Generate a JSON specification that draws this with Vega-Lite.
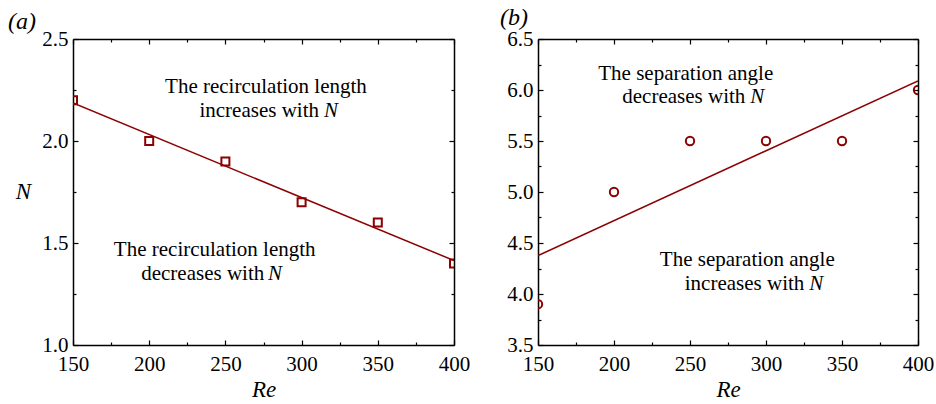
{
  "$schema": "https://vega.github.io/schema/vega-lite/v6.json",
  "padding": {"left": 7, "top": 5, "right": 5, "bottom": 0},
  "background": "white",
  "spacing": 84,
  "bounds": "flush",
  "config": {
    "view": {"stroke": null},
    "font": "Liberation Serif",
    "axis": {
      "domainColor": "black", "domainWidth": 1.5,
      "tickColor": "black", "tickWidth": 1.2,
      "labelFont": "Liberation Serif", "labelFontSize": 21, "labelColor": "black",
      "labelFlush": false, "labelOverlap": false, "grid": false,
      "titleFont": "Liberation Serif", "titleFontStyle": "italic", "titleFontWeight": "normal",
      "titleFontSize": 23, "titleColor": "black"
    }
  },
  "datasets": {
    "a_pts": [
      {"re": 150, "n": 2.2}, {"re": 200, "n": 2.0}, {"re": 250, "n": 1.9},
      {"re": 300, "n": 1.7}, {"re": 350, "n": 1.6}, {"re": 400, "n": 1.4}
    ],
    "a_fit": [{"re": 150, "n": 2.186}, {"re": 400, "n": 1.414}],
    "a_txt": [
      {"re": 276.6, "n": 2.236, "t": "The recirculation length", "part": "l1"},
      {"re": 311.4, "n": 2.118, "t": "increases with", "part": "l2"},
      {"re": 314.7, "n": 2.118, "t": "N", "part": "v"},
      {"re": 243.0, "n": 1.436, "t": "The recirculation length", "part": "l1"},
      {"re": 275.5, "n": 1.318, "t": "decreases with", "part": "l2"},
      {"re": 278.0, "n": 1.318, "t": "N", "part": "v"},
      {"re": 116.5, "n": 2.549, "t": "(a)", "part": "p"}
    ],
    "b_pts": [
      {"re": 150, "n": 3.9}, {"re": 200, "n": 5.0}, {"re": 250, "n": 5.5},
      {"re": 300, "n": 5.5}, {"re": 350, "n": 5.5}, {"re": 400, "n": 6.0}
    ],
    "b_fit": [{"re": 150, "n": 4.376}, {"re": 400, "n": 6.09}],
    "b_txt": [
      {"re": 247.2, "n": 6.1, "t": "The separation angle", "part": "l1"},
      {"re": 286.4, "n": 5.868, "t": "decreases with", "part": "l2"},
      {"re": 289.7, "n": 5.868, "t": "N", "part": "v"},
      {"re": 287.7, "n": 4.275, "t": "The separation angle", "part": "l1"},
      {"re": 325.2, "n": 4.04, "t": "increases with", "part": "l2"},
      {"re": 328.5, "n": 4.04, "t": "N", "part": "v"},
      {"re": 134.2, "n": 6.64, "t": "(b)", "part": "p"}
    ]
  },
  "hconcat": [
    {
      "width": 381, "height": 306,
      "resolve": {"axis": {"x": "independent", "y": "independent"}},
      "layer": [
        {
          "data": {"name": "a_pts"},
          "mark": {"type": "point", "shape": "square", "filled": false, "size": 64, "strokeWidth": 2, "color": "#8b0000", "opacity": 1, "clip": true},
          "encoding": {
            "x": {"field": "re", "type": "quantitative", "scale": {"domain": [150, 400], "nice": false, "zero": false},
              "axis": {"orient": "bottom", "values": [150,175,200,225,250,275,300,325,350,375,400],
                "labelExpr": "datum.value % 50 === 0 ? datum.label : ''",
                "tickSize": {"condition": {"test": "datum.value % 50 === 0", "value": -5}, "value": -3},
                "labelPadding": 13, "title": "Re", "titleY": 51, "titleBaseline": "alphabetic"}},
            "y": {"field": "n", "type": "quantitative", "scale": {"domain": [1.0, 2.5], "nice": false, "zero": false},
              "axis": {"orient": "left", "values": [1.0,1.25,1.5,1.75,2.0,2.25,2.5],
                "labelExpr": "abs(datum.value*2 - round(datum.value*2)) < 0.001 ? format(datum.value, '.1f') : ''",
                "tickSize": {"condition": {"test": "abs(datum.value*2 - round(datum.value*2)) < 0.001", "value": -5}, "value": -3},
                "labelPadding": 10, "title": "N", "titleAngle": 0, "titleAlign": "center", "titleBaseline": "alphabetic",
                "titleX": -50, "titleY": 159}}
          }
        },
        {
          "data": {"name": "a_fit"},
          "mark": {"type": "line", "color": "#8b0000", "strokeWidth": 1.5, "clip": true},
          "encoding": {
            "x": {"field": "re", "type": "quantitative", "scale": {"domain": [150, 400], "nice": false, "zero": false},
              "axis": {"orient": "top", "values": [150,175,200,225,250,275,300,325,350,375,400], "labels": false, "title": null,
                "tickSize": {"condition": {"test": "datum.value % 50 === 0", "value": -5}, "value": -3}}},
            "y": {"field": "n", "type": "quantitative", "scale": {"domain": [1.0, 2.5], "nice": false, "zero": false},
              "axis": {"orient": "right", "values": [1.0,1.25,1.5,1.75,2.0,2.25,2.5], "labels": false, "title": null,
                "tickSize": {"condition": {"test": "abs(datum.value*2 - round(datum.value*2)) < 0.001", "value": -5}, "value": -3}}}
          }
        },
        {
          "data": {"name": "a_txt"},
          "transform": [{"filter": "datum.part === 'l1'"}],
          "mark": {"type": "text", "align": "center", "baseline": "alphabetic", "font": "Liberation Serif", "fontSize": 21, "color": "black"},
          "encoding": {
            "x": {"field": "re", "type": "quantitative", "axis": null},
            "y": {"field": "n", "type": "quantitative", "axis": null},
            "text": {"field": "t"}
          }
        },
        {
          "data": {"name": "a_txt"},
          "transform": [{"filter": "datum.part === 'l2'"}],
          "mark": {"type": "text", "align": "right", "baseline": "alphabetic", "font": "Liberation Serif", "fontSize": 21, "color": "black"},
          "encoding": {
            "x": {"field": "re", "type": "quantitative", "axis": null},
            "y": {"field": "n", "type": "quantitative", "axis": null},
            "text": {"field": "t"}
          }
        },
        {
          "data": {"name": "a_txt"},
          "transform": [{"filter": "datum.part === 'v'"}],
          "mark": {"type": "text", "align": "left", "baseline": "alphabetic", "font": "Liberation Serif", "fontStyle": "italic", "fontSize": 21, "color": "black"},
          "encoding": {
            "x": {"field": "re", "type": "quantitative", "axis": null},
            "y": {"field": "n", "type": "quantitative", "axis": null},
            "text": {"field": "t"}
          }
        },
        {
          "data": {"name": "a_txt"},
          "transform": [{"filter": "datum.part === 'p'"}],
          "mark": {"type": "text", "align": "center", "baseline": "alphabetic", "font": "Liberation Serif", "fontStyle": "italic", "fontSize": 24, "color": "black"},
          "encoding": {
            "x": {"field": "re", "type": "quantitative", "axis": null},
            "y": {"field": "n", "type": "quantitative", "axis": null},
            "text": {"field": "t"}
          }
        }
      ]
    },
    {
      "width": 380, "height": 306,
      "resolve": {"axis": {"x": "independent", "y": "independent"}},
      "layer": [
        {
          "data": {"name": "b_pts"},
          "mark": {"type": "point", "shape": "circle", "filled": false, "size": 70, "strokeWidth": 2, "color": "#8b0000", "opacity": 1, "clip": true},
          "encoding": {
            "x": {"field": "re", "type": "quantitative", "scale": {"domain": [150, 400], "nice": false, "zero": false},
              "axis": {"orient": "bottom", "values": [150,175,200,225,250,275,300,325,350,375,400],
                "labelExpr": "datum.value % 50 === 0 ? datum.label : ''",
                "tickSize": {"condition": {"test": "datum.value % 50 === 0", "value": -5}, "value": -3},
                "labelPadding": 13, "title": "Re", "titleY": 51, "titleBaseline": "alphabetic"}},
            "y": {"field": "n", "type": "quantitative", "scale": {"domain": [3.5, 6.5], "nice": false, "zero": false},
              "axis": {"orient": "left", "values": [3.5,3.75,4.0,4.25,4.5,4.75,5.0,5.25,5.5,5.75,6.0,6.25,6.5],
                "labelExpr": "abs(datum.value*2 - round(datum.value*2)) < 0.001 ? format(datum.value, '.1f') : ''",
                "tickSize": {"condition": {"test": "abs(datum.value*2 - round(datum.value*2)) < 0.001", "value": -5}, "value": -3},
                "labelPadding": 10, "title": null}}
          }
        },
        {
          "data": {"name": "b_fit"},
          "mark": {"type": "line", "color": "#8b0000", "strokeWidth": 1.5, "clip": true},
          "encoding": {
            "x": {"field": "re", "type": "quantitative", "scale": {"domain": [150, 400], "nice": false, "zero": false},
              "axis": {"orient": "top", "values": [150,175,200,225,250,275,300,325,350,375,400], "labels": false, "title": null,
                "tickSize": {"condition": {"test": "datum.value % 50 === 0", "value": -5}, "value": -3}}},
            "y": {"field": "n", "type": "quantitative", "scale": {"domain": [3.5, 6.5], "nice": false, "zero": false},
              "axis": {"orient": "right", "values": [3.5,3.75,4.0,4.25,4.5,4.75,5.0,5.25,5.5,5.75,6.0,6.25,6.5], "labels": false, "title": null,
                "tickSize": {"condition": {"test": "abs(datum.value*2 - round(datum.value*2)) < 0.001", "value": -5}, "value": -3}}}
          }
        },
        {
          "data": {"name": "b_txt"},
          "transform": [{"filter": "datum.part === 'l1'"}],
          "mark": {"type": "text", "align": "center", "baseline": "alphabetic", "font": "Liberation Serif", "fontSize": 21, "color": "black"},
          "encoding": {
            "x": {"field": "re", "type": "quantitative", "axis": null},
            "y": {"field": "n", "type": "quantitative", "axis": null},
            "text": {"field": "t"}
          }
        },
        {
          "data": {"name": "b_txt"},
          "transform": [{"filter": "datum.part === 'l2'"}],
          "mark": {"type": "text", "align": "right", "baseline": "alphabetic", "font": "Liberation Serif", "fontSize": 21, "color": "black"},
          "encoding": {
            "x": {"field": "re", "type": "quantitative", "axis": null},
            "y": {"field": "n", "type": "quantitative", "axis": null},
            "text": {"field": "t"}
          }
        },
        {
          "data": {"name": "b_txt"},
          "transform": [{"filter": "datum.part === 'v'"}],
          "mark": {"type": "text", "align": "left", "baseline": "alphabetic", "font": "Liberation Serif", "fontStyle": "italic", "fontSize": 21, "color": "black"},
          "encoding": {
            "x": {"field": "re", "type": "quantitative", "axis": null},
            "y": {"field": "n", "type": "quantitative", "axis": null},
            "text": {"field": "t"}
          }
        },
        {
          "data": {"name": "b_txt"},
          "transform": [{"filter": "datum.part === 'p'"}],
          "mark": {"type": "text", "align": "center", "baseline": "alphabetic", "font": "Liberation Serif", "fontStyle": "italic", "fontSize": 24, "color": "black"},
          "encoding": {
            "x": {"field": "re", "type": "quantitative", "axis": null},
            "y": {"field": "n", "type": "quantitative", "axis": null},
            "text": {"field": "t"}
          }
        }
      ]
    }
  ]
}
